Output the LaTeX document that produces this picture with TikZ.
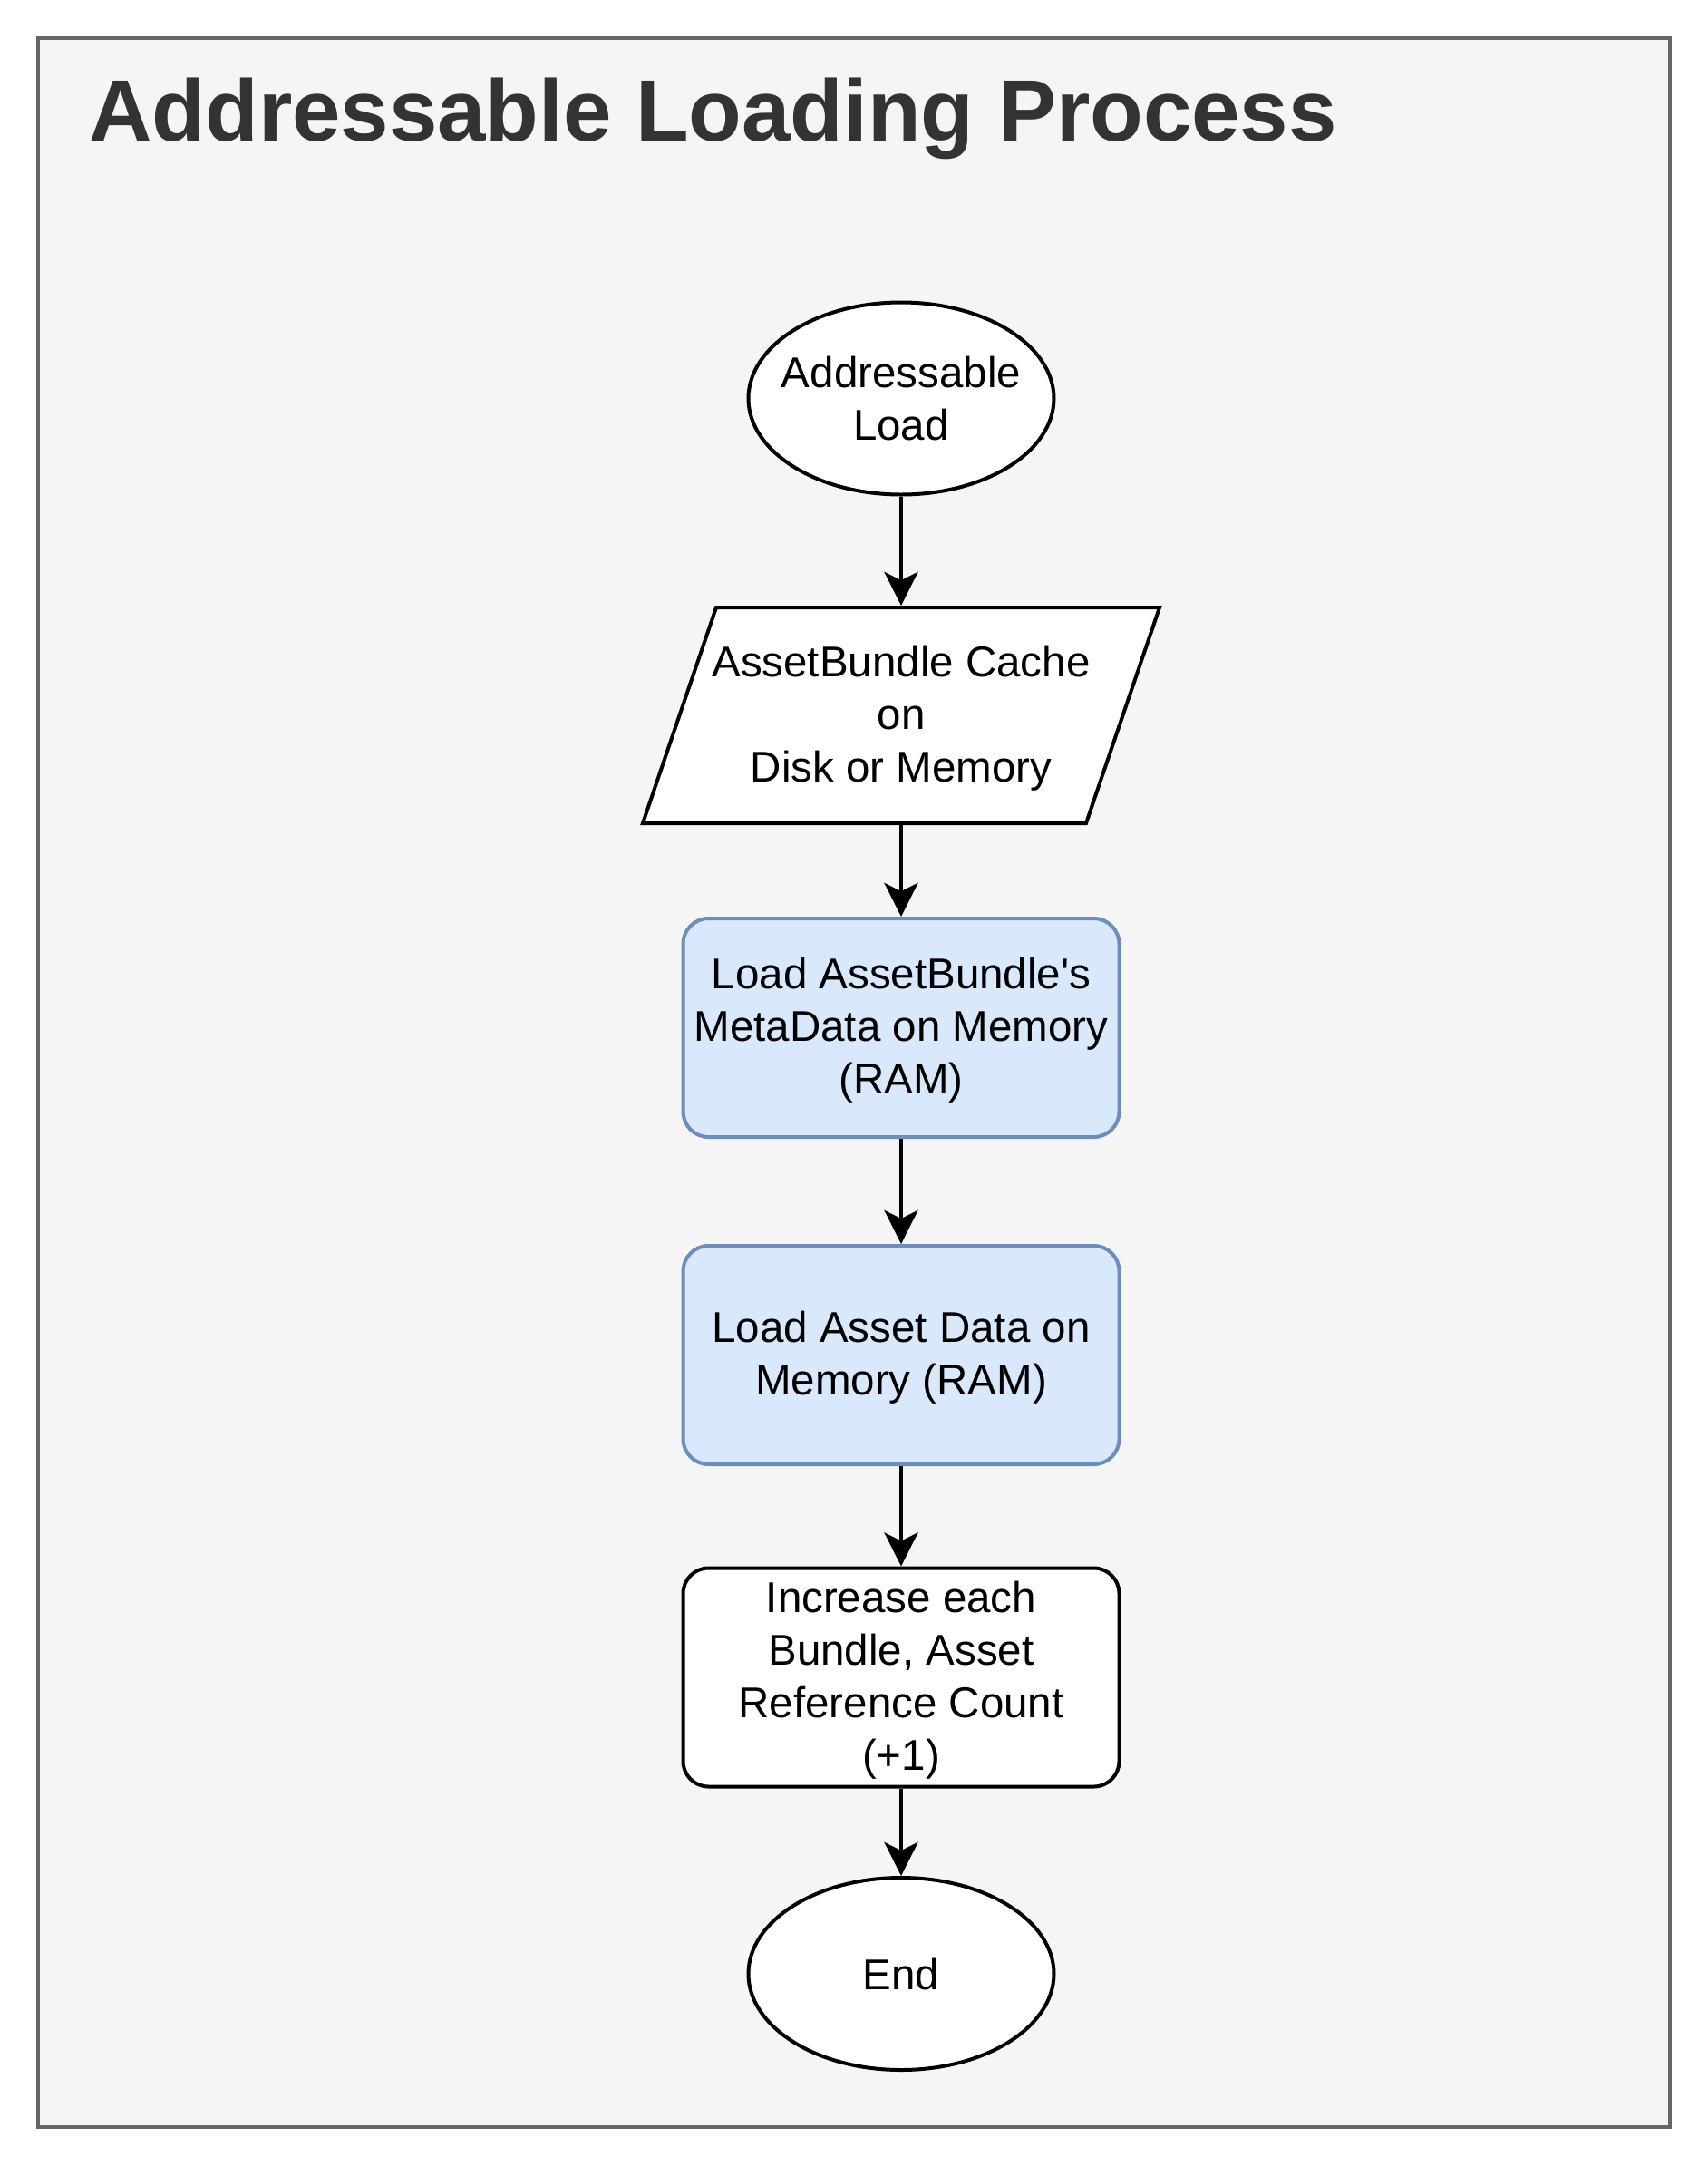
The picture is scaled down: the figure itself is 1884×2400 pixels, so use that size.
\documentclass[tikz,border=0pt]{standalone}
\usepackage{fontspec}
\setmainfont{Liberation Sans}
\usetikzlibrary{shapes.geometric,arrows.meta,calc}
\definecolor{framefill}{HTML}{F5F5F5}
\definecolor{framedraw}{HTML}{666666}
\definecolor{titlecol}{HTML}{333333}
\definecolor{bluefill}{HTML}{DAE8FC}
\definecolor{bluedraw}{HTML}{6C8EBF}
\tikzset{
  bodyfont/.style={font=\fontsize{23.75pt}{29pt}\selectfont},
  terminal/.style={ellipse, draw=black, fill=white, line width=2pt, minimum width=168.5pt, minimum height=106pt, inner sep=0pt},
  lbl/.style={bodyfont, align=center, text=black},
  procbox/.style={rectangle, rounded corners=14pt, draw=black, fill=white, line width=2pt, minimum width=240.5pt, minimum height=120.5pt, inner sep=2pt, bodyfont, align=center, text depth=2pt},
  bluebox/.style={procbox, draw=bluedraw, fill=bluefill},
  iobox/.style={rectangle, minimum width=244.5pt, minimum height=119pt, inner sep=0pt, outer sep=1pt, bodyfont, align=center, text depth=2pt},
  arr/.style={line width=2pt, -{Stealth[length=18.5pt, width=18.5pt, inset=4.5pt]}},
}
\begin{document}
\begin{tikzpicture}[x=0.5pt, y=-0.5pt]
\useasboundingbox (0,0) rectangle (1884,2400);
\fill[white] (0,0) rectangle (1884,2400);
\draw[fill=framefill, draw=framedraw, line width=2pt] (42,42) rectangle (1842,2346);
\node[anchor=base west, inner sep=0pt, text=titlecol, font=\fontsize{48pt}{57pt}\selectfont\bfseries] (title) at (98,155) {Addressable Loading Process};

\node[terminal, label={[lbl]center:{Addressable\\Load}}] (start) at (994,439.5) {};
\draw[line width=2pt, fill=white] (790,670) -- (1279,670) -- (1198,908) -- (709,908) -- cycle;
\node[iobox] (cache) at (994,789) {AssetBundle Cache\\on\\Disk or Memory};
\node[bluebox] (meta) at (994,1133.5) {Load AssetBundle\textquotesingle s\\MetaData on Memory\\(RAM)};
\node[bluebox] (asset) at (994,1494.5) {Load Asset Data on\\Memory (RAM)};
\node[procbox] (count) at (994,1850) {Increase each\\Bundle, Asset\\Reference Count\\(+1)};
\node[terminal, label={[lbl]center:End}] (finish) at (994,2177) {};

\draw[arr] (start.south) -- (cache.north);
\draw[arr] (cache.south) -- (meta.north);
\draw[arr] (meta.south) -- (asset.north);
\draw[arr] (asset.south) -- (count.north);
\draw[arr] (count.south) -- (finish.north);
\end{tikzpicture}
\end{document}
